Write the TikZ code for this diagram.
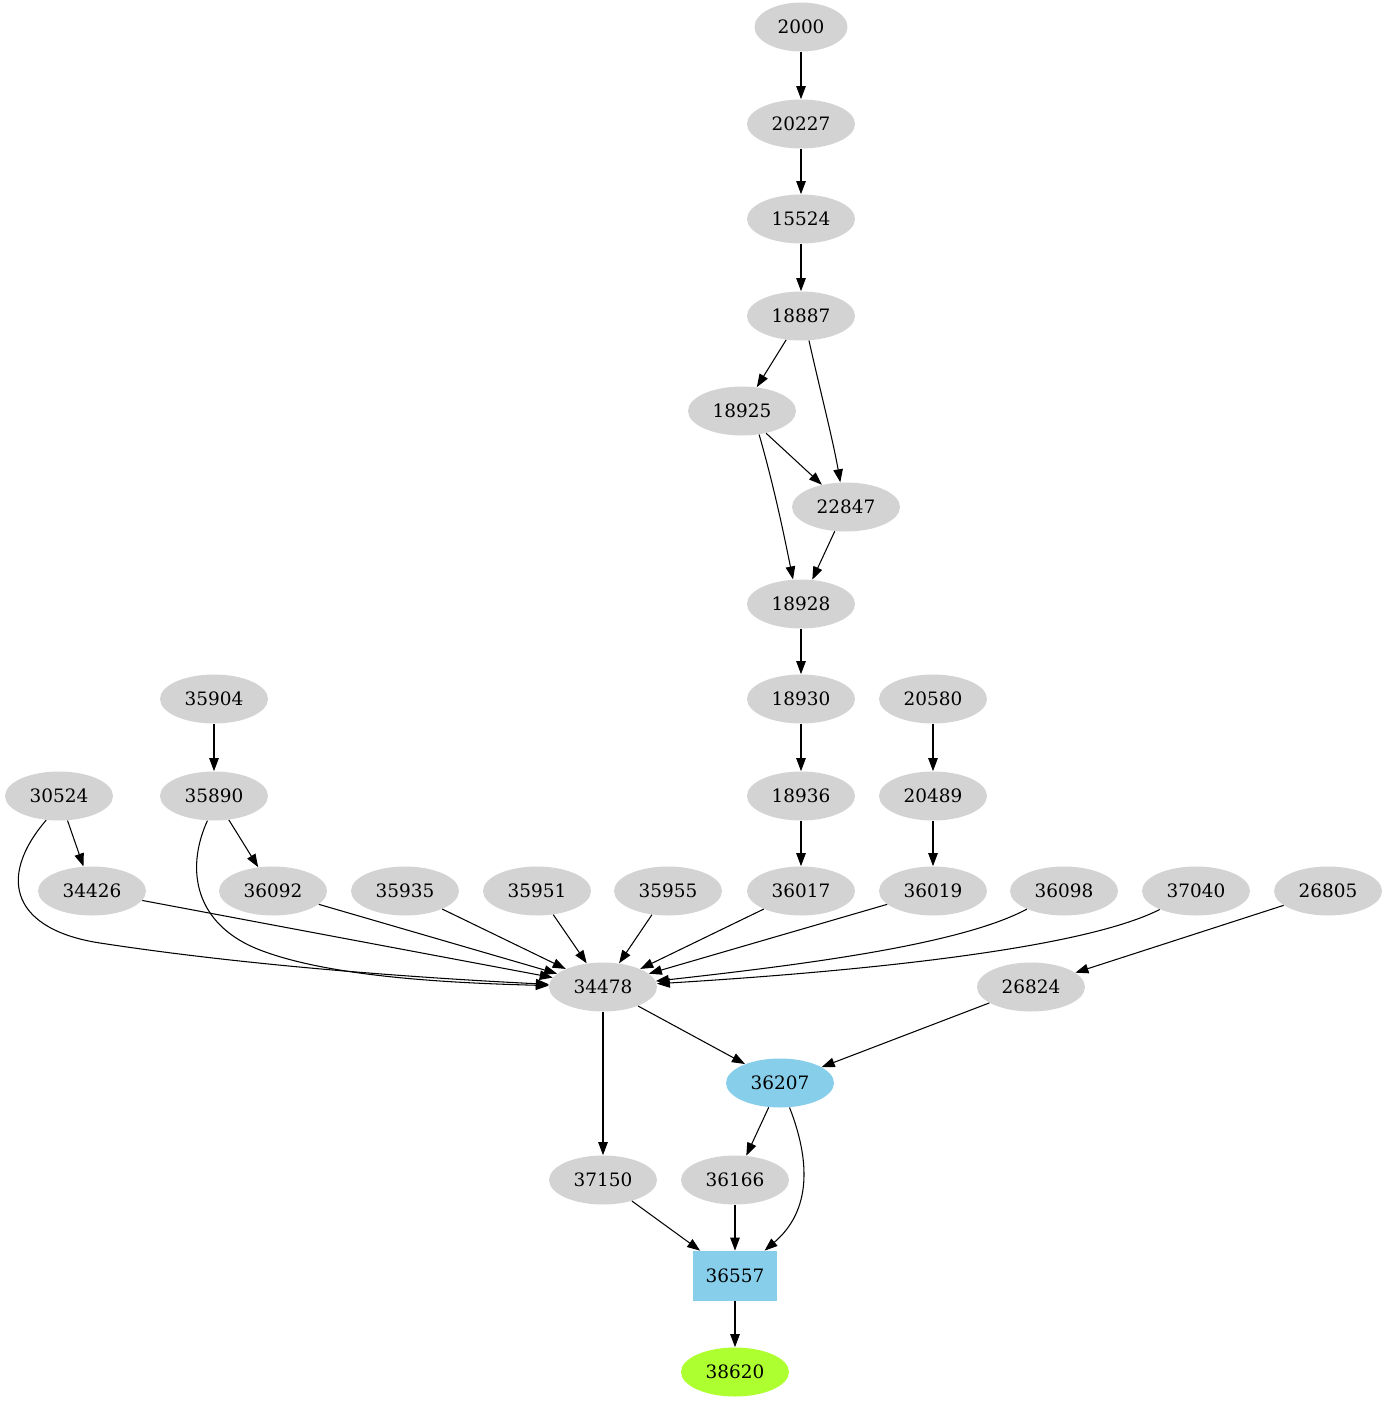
\documentclass[tikz,border=0pt]{standalone}
\usepackage{fontspec}
\setmainfont{DejaVu Serif}
\usetikzlibrary{shapes.geometric,arrows.meta}

\definecolor{nodeGray}{HTML}{D3D3D3}
\definecolor{skyBlue}{HTML}{87CEEB}
\definecolor{greenYellow}{HTML}{ADFF2F}

\begin{document}
\begin{tikzpicture}[x=0.02cm, y=-0.02cm, shorten >=0pt,
        every node/.style={font=\fontsize{10.5}{12}\selectfont}]
        \tikzstyle{nodeStyle} = [ellipse,fill=nodeGray,draw=none,minimum width=2.16cm,minimum height=0.98cm,inner sep=1pt]
        \tikzstyle{blueStyle} = [nodeStyle,fill=skyBlue]
        \tikzstyle{boxStyle} = [rectangle,fill=skyBlue,minimum width=1.68cm,minimum height=1.0cm]
        \tikzstyle{blackEdge} = [draw=black, line width=0.6pt, -{Triangle[length=7.4pt,width=5.4pt]}]
        \useasboundingbox (0,0) rectangle (1389,1403);
        % chain at the top
        \node[nodeStyle,minimum width=1.86cm] (n2000) at (801,27) {2000};
        \node[nodeStyle] (n20227) at (801,124) {20227};
        \node[nodeStyle] (n15524) at (801,219) {15524};
        \node[nodeStyle] (n18887) at (801,316) {18887};
        \node[nodeStyle] (n18925) at (742,411) {18925};
        \node[nodeStyle] (n22847) at (846,507) {22847};
        \node[nodeStyle] (n18928) at (801,604) {18928};
        \node[nodeStyle] (n18930) at (801,699) {18930};
        \node[nodeStyle] (n20580) at (933,699) {20580};
        \node[nodeStyle] (n35904) at (214,699) {35904};
        \node[nodeStyle] (n30524) at (59,796) {30524};
        \node[nodeStyle] (n35890) at (214,796) {35890};
        \node[nodeStyle] (n18936) at (801,796) {18936};
        \node[nodeStyle] (n20489) at (933,796) {20489};
        % row feeding 34478
        \node[nodeStyle] (n34426) at (92,891) {34426};
        \node[nodeStyle] (n36092) at (273,891) {36092};
        \node[nodeStyle] (n35935) at (405,891) {35935};
        \node[nodeStyle] (n35951) at (537,891) {35951};
        \node[nodeStyle] (n35955) at (668,891) {35955};
        \node[nodeStyle] (n36017) at (801,891) {36017};
        \node[nodeStyle] (n36019) at (933,891) {36019};
        \node[nodeStyle] (n36098) at (1064,891) {36098};
        \node[nodeStyle] (n37040) at (1196,891) {37040};
        \node[nodeStyle] (n26805) at (1328,891) {26805};
        \node[nodeStyle] (n34478) at (603,987) {34478};
        \node[nodeStyle] (n26824) at (1031,987) {26824};
        \node[blueStyle] (n36207) at (780,1083) {36207};
        \node[nodeStyle] (n37150) at (603,1180) {37150};
        \node[nodeStyle] (n36166) at (735,1180) {36166};
        \node[boxStyle] (n36557) at (735,1276) {36557};
        \node[nodeStyle,fill=greenYellow] (n38620) at (735,1372) {38620};
        \path[blackEdge] (n2000) edge (n20227);
        \path[blackEdge] (n20227) edge (n15524);
        \path[blackEdge] (n15524) edge (n18887);
        \path[blackEdge] (n18887) edge (n18925);
        \path[blackEdge] (n18887.-72) .. controls (820,390) and (833,440) .. (n22847.103);
        \path[blackEdge] (n18925) edge (n22847);
        \path[blackEdge] (n18925.-54) .. controls (775,490) and (785,540) .. (n18928.108);
        \path[blackEdge] (n22847) edge (n18928);
        \path[blackEdge] (n18928) edge (n18930);
        \path[blackEdge] (n18930) edge (n18936);
        \path[blackEdge] (n18936) edge (n36017);
        \path[blackEdge] (n20580) edge (n20489);
        \path[blackEdge] (n20489) edge (n36019);
        \path[blackEdge] (n35904) edge (n35890);
        \path[blackEdge] (n35890) edge (n36092);
        \path[blackEdge] (n30524) edge (n34426);
        \path[blackEdge] (n30524.-118) .. controls (-5,880) and (15,930) .. (100,943) .. controls (250,966) and (420,978) .. (n34478);
        \path[blackEdge] (n35890.-105) .. controls (185,870) and (195,925) .. (260,950) .. controls (330,977) and (450,983) .. (n34478);
        \path[blackEdge] (n34426) edge (n34478);
        \path[blackEdge] (n36092) edge (n34478);
        \path[blackEdge] (n35935) edge (n34478);
        \path[blackEdge] (n35951) edge (n34478);
        \path[blackEdge] (n35955) edge (n34478);
        \path[blackEdge] (n36017) edge (n34478);
        \path[blackEdge] (n36019) edge (n34478);
        \path[blackEdge] (n36098.206) .. controls (960,945) and (800,965) .. (n34478);
        \path[blackEdge] (n37040.207) .. controls (1080,950) and (850,972) .. (n34478);
        \path[blackEdge] (n26805) edge (n26824);
        \path[blackEdge] (n26824) edge (n36207);
        \path[blackEdge] (n34478) edge (n36207);
        \path[blackEdge] (n34478) edge (n37150);
        \path[blackEdge] (n36207) edge (n36166);
        \path[blackEdge] (n36207) .. controls (810,1160) and (812,1210) .. (n36557);
        \path[blackEdge] (n37150) edge (n36557);
        \path[blackEdge] (n36166) edge (n36557);
        \path[blackEdge] (n36557) edge (n38620);
    \end{tikzpicture}
\end{document}
